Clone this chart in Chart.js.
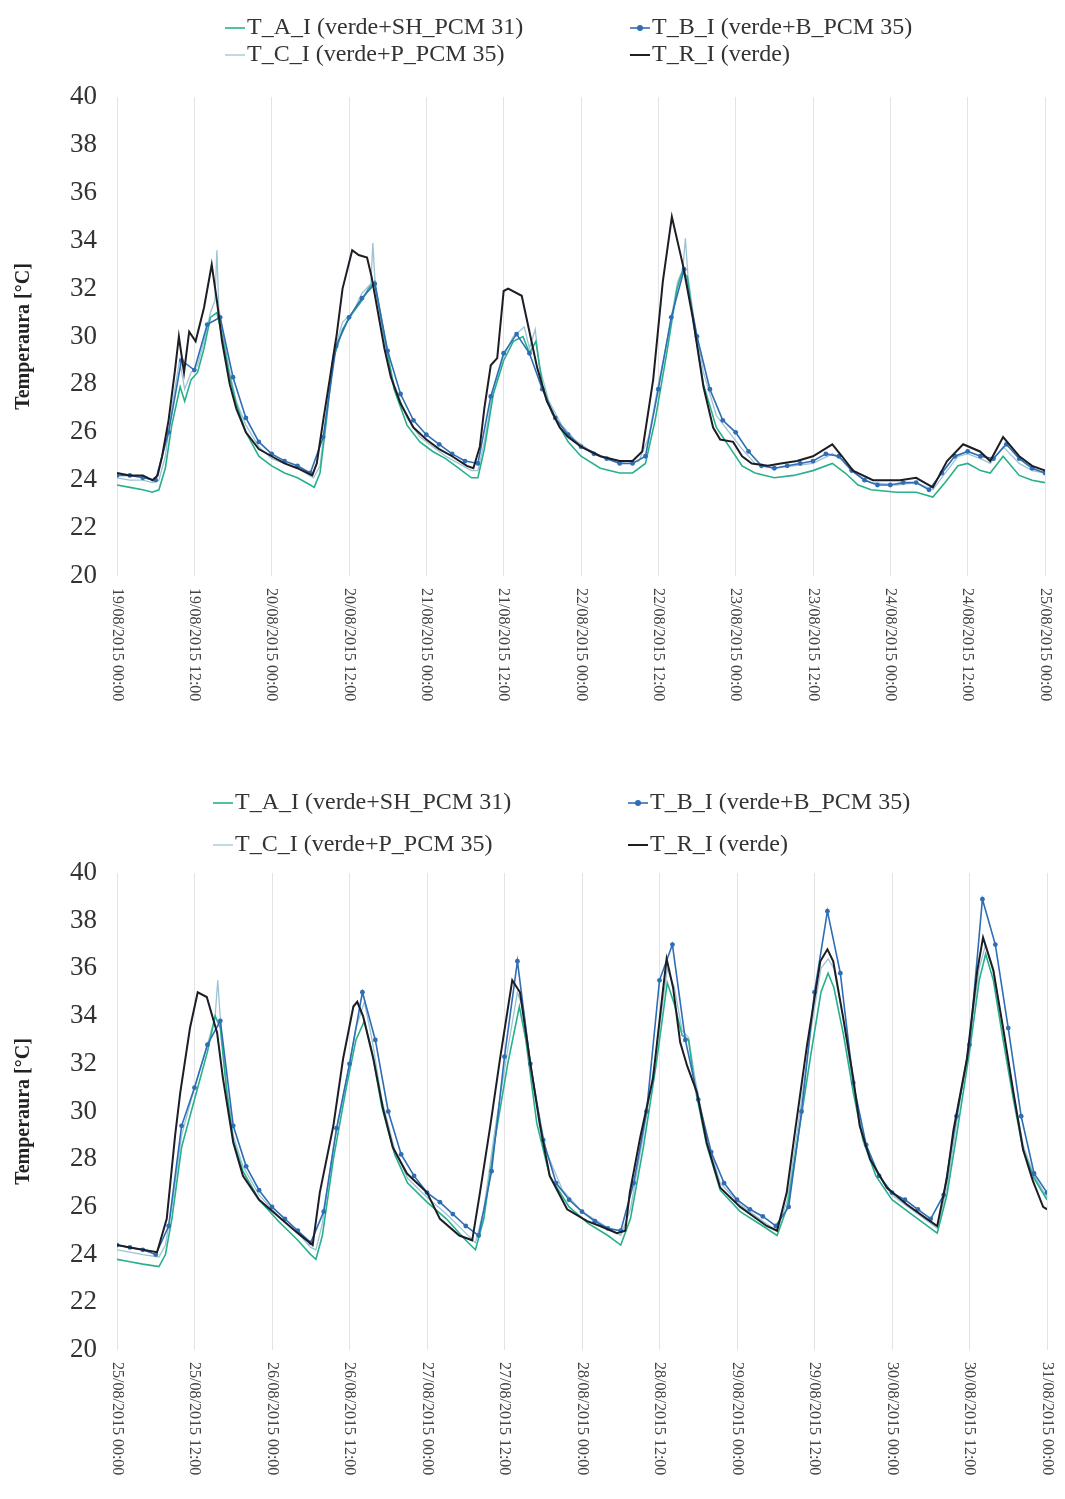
<!DOCTYPE html>
<html>
<head>
<meta charset="utf-8">
<script src="https://cdn.jsdelivr.net/npm/chart.js@4.4.1/dist/chart.umd.min.js"></script>
<style>
  html, body { margin: 0; padding: 0; background: #fff; }
  .panel { position: absolute; left: 0; width: 1065px; }
  #panel1 { top: 0; height: 740px; }
  #panel2 { top: 770px; height: 729px; }
</style>
</head>
<body>
<div id="panel1" class="panel"><canvas id="chart1" width="1065" height="740"></canvas></div>
<div id="panel2" class="panel"><canvas id="chart2" width="1065" height="729"></canvas></div>
<script>
// hours since the first tick, 12 h between labelled ticks
const ticks1 = ["19/08/2015 00:00", "19/08/2015 12:00", "20/08/2015 00:00", "20/08/2015 12:00",
  "21/08/2015 00:00", "21/08/2015 12:00", "22/08/2015 00:00", "22/08/2015 12:00",
  "23/08/2015 00:00", "23/08/2015 12:00", "24/08/2015 00:00", "24/08/2015 12:00", "25/08/2015 00:00"];
const ticks2 = ["25/08/2015 00:00", "25/08/2015 12:00", "26/08/2015 00:00", "26/08/2015 12:00",
  "27/08/2015 00:00", "27/08/2015 12:00", "28/08/2015 00:00", "28/08/2015 12:00",
  "29/08/2015 00:00", "29/08/2015 12:00", "30/08/2015 00:00", "30/08/2015 12:00", "31/08/2015 00:00"];

const names = {
  a: "T_A_I (verde+SH_PCM 31)",
  b: "T_B_I (verde+B_PCM 35)",
  c: "T_C_I (verde+P_PCM 35)",
  r: "T_R_I (verde)"
};

// ---- chart 1 : 19/08 - 25/08 ----  [hour, °C]
const r1 = [[0,24.3],[2,24.2],[4,24.2],[5.5,24.0],[6.3,24.2],[7,25.0],[8,26.5],[9,28.6],[9.6,30.0],[10.4,28.5],
  [11.2,30.2],[12.2,29.8],[13.5,31.2],[14.7,33.0],[15.5,31.5],[16.3,29.8],[17.5,28.0],[18.5,27.0],[20,26.0],[22,25.3],
  [24,25.0],[26,24.7],[28,24.5],[30.3,24.2],[31,24.7],[32,26.5],[33,28.2],[34.1,30.1],[35,32.0],[36.5,33.6],
  [37.5,33.4],[38.8,33.3],[39.5,32.5],[40.5,31.0],[41.5,29.5],[42.5,28.3],[44,27.2],[46,26.2],[48,25.7],[50,25.3],
  [52,25.0],[54.3,24.6],[55.3,24.5],[56.3,25.4],[57,27.0],[58,28.8],[59,29.1],[60,31.9],[60.7,32.0],[62.8,31.7],
  [63.6,30.7],[65.2,28.7],[66.7,27.3],[68.7,26.2],[70,25.8],[72,25.4],[75,25.0],[78,24.8],[80,24.8],[81.5,25.2],
  [83.2,28.2],[84.7,32.3],[86.1,35.0],[87.8,33.0],[89.4,30.7],[91,27.9],[92.5,26.2],[93.6,25.7],[95.6,25.6],[97,25.0],
  [98.5,24.7],[101,24.6],[103,24.7],[105.5,24.8],[108,25.0],[111,25.5],[112.5,25.0],[114.2,24.4],[117.3,24.0],[121.5,24.0],
  [124,24.1],[126.6,23.7],[128.8,24.8],[131.3,25.5],[133.9,25.2],[135.5,24.8],[137.5,25.8],[140,25.0],[142,24.6],[144,24.4]];

// T_B_I every 2 h from 0 to 144
const b1 = [
  24.2, 24.2, 24.1, 24.0, 26.0, 29.0, 28.6, 30.5, 30.8, 28.3, 26.6, 25.6,
  25.1, 24.8, 24.6, 24.3, 25.8, 29.6, 30.8, 31.6, 32.2, 29.4, 27.6, 26.5,
  25.9, 25.5, 25.1, 24.8, 24.7, 27.5, 29.3, 30.1, 29.3, 27.8, 26.6, 25.9,
  25.4, 25.1, 24.9, 24.7, 24.7, 25.0, 27.8, 30.8, 32.8, 30.0, 27.8, 26.5,
  26.0, 25.2, 24.6, 24.5, 24.6, 24.7, 24.8, 25.1, 25.0, 24.4, 24.0, 23.8,
  23.8, 23.9, 23.9, 23.6, 24.3, 25.0, 25.2, 25.0, 24.9, 25.5, 24.9, 24.5,
  24.3];

const a1 = [[0,23.8],[2,23.7],[4,23.6],[5.5,23.5],[6.5,23.6],[7.5,24.5],[8.5,26.3],[9.8,27.9],[10.5,27.3],[11.5,28.2],
  [12.5,28.5],[13.5,29.5],[14.5,30.8],[15.5,31.0],[16.5,29.8],[17.5,28.3],[18.5,27.2],[20,26.0],[22,25.0],[24,24.6],
  [26,24.3],[28,24.1],[30,23.8],[30.6,23.7],[31.5,24.3],[32.5,26.5],[33.5,29.0],[35,30.3],[36.6,31.0],[38,31.5],
  [39,32.0],[40,32.3],[41.5,30.0],[43,27.8],[45,26.3],[47,25.6],[49,25.2],[51,24.9],[53,24.5],[55,24.1],
  [56,24.1],[57,25.3],[58.4,27.6],[60,29.0],[61.5,29.8],[63,30.0],[64,29.3],[65,29.8],[66,28.0],[67.5,26.8],
  [70,25.6],[72,25.0],[75,24.5],[78,24.3],[80,24.3],[82,24.7],[83.5,26.5],[85.3,29.3],[86.9,32.0],[87.7,32.7],
  [88.5,32.5],[89.5,30.5],[91,28.0],[93,26.2],[95,25.4],[97,24.6],[99,24.3],[102,24.1],[105,24.2],[108,24.4],
  [111,24.7],[113,24.3],[115,23.8],[117,23.6],[121,23.5],[124,23.5],[126.6,23.3],[128.5,23.9],[130.5,24.6],[132,24.7],
  [134,24.4],[135.5,24.3],[137.5,25.0],[140,24.2],[142,24.0],[144,23.9]];

const c1 = [[0,24.1],[2,24.0],[4,24.0],[5.5,23.9],[6.5,24.0],[7.5,25.0],[8.5,27.0],[9.7,29.0],[10.5,27.8],[11.5,28.5],
  [12.5,28.8],[13.5,29.8],[14.5,31.0],[15.2,31.5],[15.5,33.6],[15.8,31.2],[16.5,30.0],[17.5,28.5],[18.5,27.3],[20,26.3],
  [22,25.4],[24,24.9],[26,24.7],[28,24.5],[30.5,24.1],[31.5,24.6],[32.5,26.8],[33.5,29.2],[35,30.6],[36.6,31.0],
  [38,31.8],[39.4,32.2],[39.7,33.9],[40.1,32.0],[41.5,29.8],[43,28.0],[45,26.6],[47,25.8],[49,25.4],[51,25.0],
  [53,24.7],[55,24.4],[56,24.4],[57,25.6],[58.4,27.8],[60,29.2],[61.5,30.0],[63.2,30.4],[64,29.5],[64.9,30.3],
  [65.5,28.8],[67,27.3],[69,26.3],[71,25.7],[73,25.3],[76,24.9],[79,24.7],[81,24.8],[82.5,25.8],[84,28.0],
  [85.5,30.0],[87,32.3],[87.8,32.8],[88.2,34.1],[88.6,32.5],[89.5,30.8],[91,28.5],[93,26.7],[95,26.0],[97,25.3],
  [99,24.7],[102,24.5],[105,24.6],[108,24.7],[111,25.1],[113,24.8],[115,24.2],[117,23.9],[121,23.8],[124,23.9],
  [126.6,23.6],[128.5,24.3],[130.5,25.0],[132,25.1],[134,24.9],[135.5,24.7],[137.5,25.4],[140,24.7],[142,24.4],[144,24.3]];

// ---- chart 2 : 25/08 - 31/08 ----
const r2 = [[0,24.4],[2,24.3],[4,24.2],[6.2,24.1],[7.7,25.5],[9,29.0],[9.8,30.8],[11.3,33.5],[12.5,35.0],[13.9,34.8],
  [15.5,33.3],[16.4,31.4],[18,28.7],[19.5,27.3],[22,26.3],[25,25.6],[28,24.9],[30.3,24.4],[31.4,26.6],[33.5,29.4],
  [35,32.2],[36.6,34.4],[37.2,34.6],[38.1,34.0],[39.7,32.2],[41.2,30.1],[42.7,28.5],[44.9,27.4],[48,26.6],[50,25.5],
  [53,24.8],[55,24.6],[56.2,26.6],[57.8,29.4],[59.3,32.2],[61.2,35.5],[62.4,35.0],[63.9,32.2],[65.5,29.4],[67,27.3],
  [69.7,25.9],[72.8,25.4],[74.8,25.2],[77.4,24.9],[78.7,25.0],[79.4,26.6],[81,28.9],[83,31.4],[84.5,35.0],[85.1,36.4],
  [86.1,35.2],[87.2,32.9],[88.3,31.9],[89.8,30.8],[91.3,28.7],[93.4,26.8],[96.5,26.0],[100.6,25.2],[102.2,25.0],[103.7,26.6],
  [105,29.2],[106.8,32.7],[108.9,36.3],[110,36.8],[110.9,36.3],[112.4,34.0],[114,31.4],[115,29.4],[116.6,28.0],[119.2,26.8],
  [122.3,26.1],[125.4,25.5],[127,25.2],[128.5,27.2],[129.5,29.2],[131.6,32.2],[133.2,35.9],[134.1,37.3],[135.7,35.9],[137.2,33.5],
  [138.8,30.8],[140.3,28.4],[141.8,27.1],[143.4,26.0],[144,25.9]];

const b2 = [
  24.4, 24.3, 24.2, 24.0, 25.2, 29.4, 31.0, 32.8, 33.8, 29.4, 27.7, 26.7,
  26.0, 25.5, 25.0, 24.5, 25.8, 29.3, 32.0, 35.0, 33.0, 30.0, 28.2, 27.3,
  26.6, 26.2, 25.7, 25.2, 24.8, 27.5, 32.3, 36.3, 32.0, 28.8, 27.0, 26.3,
  25.8, 25.4, 25.1, 25.0, 27.0, 30.0, 35.5, 37.0, 33.0, 30.5, 28.3, 27.0,
  26.3, 25.9, 25.6, 25.2, 26.0, 30.0, 35.0, 38.4, 35.8, 31.2, 28.6, 27.3,
  26.6, 26.3, 25.9, 25.5, 26.5, 29.8, 32.8, 38.9, 37.0, 33.5, 29.8, 27.4,
  26.6];

const a2 = [[0,23.8],[2,23.7],[4,23.6],[6.5,23.5],[7.5,24.0],[8.5,25.5],[10,28.5],[12,30.5],[14,32.5],[15.2,34.0],
  [16,33.5],[17,30.8],[18,28.8],[19.5,27.5],[22,26.3],[25,25.4],[28,24.6],[30,24.0],[30.8,23.8],[31.8,24.8],
  [33.5,28.0],[35.5,31.0],[37,33.0],[38.3,33.8],[39.5,32.5],[41,30.2],[43,28.2],[45,27.0],[48,26.2],[51,25.5],
  [54,24.6],[55.5,24.2],[56.8,25.5],[58.5,28.8],[60.5,32.0],[62.3,34.4],[63.3,33.0],[65,29.5],[67,27.3],[70,26.0],
  [73,25.3],[76,24.8],[78,24.4],[79.5,25.5],[81.5,28.5],[83.5,32.0],[85.2,35.4],[86.3,34.5],[87.5,33.2],[88.5,33.0],
  [89.5,31.0],[91.3,28.6],[93.4,26.7],[96.5,25.8],[100,25.2],[102.2,24.8],[103.8,26.0],[105.5,29.0],[107.5,32.5],[109,35.0],
  [110.1,35.8],[111,35.2],[112.5,33.2],[114,30.8],[115.5,28.8],[117.5,27.3],[120,26.3],[123,25.7],[126,25.1],[127,24.9],
  [128.5,26.5],[130,29.0],[132,32.5],[133.5,35.5],[134.5,36.6],[135.7,35.5],[137.2,33.0],[138.8,30.5],[140.3,28.4],[142,27.2],
  [144,26.3]];

const c2 = [[0,24.2],[2,24.1],[4,24.0],[6.5,23.9],[7.5,24.4],[8.5,26.0],[10,29.0],[12,31.0],[14,32.8],[15.2,34.0],
  [15.6,35.5],[16.1,33.5],[17,31.0],[18,29.0],[19.5,27.7],[22,26.5],[25,25.6],[28,24.9],[30,24.3],[30.8,24.2],
  [31.8,25.3],[33.5,28.5],[35.5,31.3],[37,33.5],[38.3,34.6],[39.5,33.0],[41,30.5],[43,28.4],[45,27.2],[48,26.4],
  [51,25.7],[54,24.9],[55.5,24.5],[56.8,25.9],[58.5,29.2],[60.5,32.6],[62,35.0],[63,34.2],[64.5,31.0],[66.5,28.3],
  [69,26.7],[72,25.8],[75,25.3],[78,24.8],[79.5,25.9],[81.5,29.0],[83.5,32.5],[85.2,36.0],[86.3,35.2],[87.5,33.4],
  [88.5,33.1],[89.5,31.4],[91.3,28.9],[93.4,27.0],[96.5,26.1],[100,25.4],[102.2,25.0],[103.8,26.3],[105.5,29.5],[107.5,33.5],
  [109,36.0],[110.1,36.4],[111,36.0],[112.5,33.8],[114,31.0],[115.5,29.0],[117.5,27.5],[120,26.5],[123,25.9],[126,25.3],
  [127,25.1],[128.5,26.8],[130,29.5],[132,33.0],[133.5,36.0],[134.5,37.0],[135.7,36.0],[137.2,33.5],[138.8,30.8],[140.3,28.6],
  [142,27.3],[144,26.4]];

const colors = { a: "#27b08c", b: "#2f6db5", c: "#9cc3d2", r: "#1d1d26" };
const FONT = "'Liberation Serif', 'Times New Roman', serif";

function pairs(list) {
  return list.map(p => ({ x: p[0], y: p[1] }));
}

function everyTwoHours(list) {
  return list.map((t, i) => ({ x: i * 2, y: t }));
}

// legend drawn in two rows like the original
const pairLegend = {
  id: "pairLegend",
  afterDraw(chart, args, opts) {
    const ctx = chart.ctx;
    ctx.save();
    ctx.font = "24px " + FONT;
    ctx.textBaseline = "middle";
    ctx.fillStyle = "#333";
    opts.items.forEach(item => {
      const ds = chart.data.datasets.find(d => d.label === item.label);
      ctx.strokeStyle = ds.borderColor;
      ctx.lineWidth = ds.borderWidth;
      ctx.beginPath();
      ctx.moveTo(item.x, item.y);
      ctx.lineTo(item.x + 20, item.y);
      ctx.stroke();
      if (ds.pointRadius > 0) {
        ctx.fillStyle = ds.borderColor;
        ctx.beginPath();
        ctx.arc(item.x + 10, item.y, 3, 0, Math.PI * 2);
        ctx.fill();
        ctx.fillStyle = "#333";
      }
      ctx.fillText(item.label, item.x + 22, item.y);
    });
    ctx.restore();
  }
};

// date labels read top to bottom under every 12 h grid line
const dateTicks = {
  id: "dateTicks",
  afterDraw(chart, args, opts) {
    const ctx = chart.ctx;
    const xScale = chart.scales.x;
    ctx.save();
    ctx.font = "16px " + FONT;
    ctx.fillStyle = "#444";
    ctx.textAlign = "left";
    ctx.textBaseline = "middle";
    opts.labels.forEach((label, i) => {
      ctx.save();
      ctx.translate(xScale.getPixelForValue(i * 12), chart.chartArea.bottom + opts.gap);
      ctx.rotate(Math.PI / 2);
      ctx.fillText(label, 0, 0);
      ctx.restore();
    });
    ctx.restore();
  }
};

function buildChart(canvasId, series, tickLabels, layout) {
  return new Chart(document.getElementById(canvasId), {
    type: "line",
    data: {
      datasets: [
        { label: names.r, data: pairs(series.r), borderColor: colors.r, borderWidth: 2, pointRadius: 0 },
        { label: names.b, data: everyTwoHours(series.b), borderColor: colors.b, borderWidth: 1.6,
          pointRadius: 2.4, pointBackgroundColor: colors.b, pointBorderWidth: 0 },
        { label: names.a, data: pairs(series.a), borderColor: colors.a, borderWidth: 1.6, pointRadius: 0 },
        { label: names.c, data: pairs(series.c), borderColor: colors.c, borderWidth: 1.3, pointRadius: 0 }
      ]
    },
    options: {
      responsive: false,
      animation: false,
      events: [],
      layout: { padding: { top: layout.top, right: layout.right, left: 0, bottom: 0 } },
      plugins: {
        legend: { display: false },
        tooltip: { enabled: false },
        pairLegend: { items: layout.legend },
        dateTicks: { labels: tickLabels, gap: 12 }
      },
      scales: {
        x: {
          type: "linear",
          min: 0,
          max: 144,
          ticks: { stepSize: 12, display: false },
          grid: { color: "#e3e3e3", drawTicks: false },
          border: { display: false },
          afterFit(scale) { scale.height = layout.xHeight; }
        },
        y: {
          min: 20,
          max: 40,
          ticks: { stepSize: 2, color: "#333", padding: 20, font: { family: FONT, size: 27 } },
          grid: { display: false, drawTicks: false },
          border: { display: false },
          title: {
            display: true,
            text: "Temperaura [°C]",
            color: "#222",
            font: { family: FONT, size: 20, weight: "bold" },
            padding: { top: 12, bottom: 0 }
          },
          afterFit(scale) { scale.width = 117; }
        }
      }
    },
    plugins: [pairLegend, dateTicks]
  });
}

buildChart("chart1", { r: r1, b: b1, a: a1, c: c1 }, ticks1, {
  top: 97, right: 20, xHeight: 164,
  legend: [
    { label: names.a, x: 225, y: 28 },
    { label: names.b, x: 630, y: 28 },
    { label: names.c, x: 225, y: 55 },
    { label: names.r, x: 630, y: 55 }
  ]
});

buildChart("chart2", { r: r2, b: b2, a: a2, c: c2 }, ticks2, {
  top: 103, right: 18, xHeight: 149,
  legend: [
    { label: names.a, x: 213, y: 33 },
    { label: names.b, x: 628, y: 33 },
    { label: names.c, x: 213, y: 75 },
    { label: names.r, x: 628, y: 75 }
  ]
});
</script>
</body>
</html>
